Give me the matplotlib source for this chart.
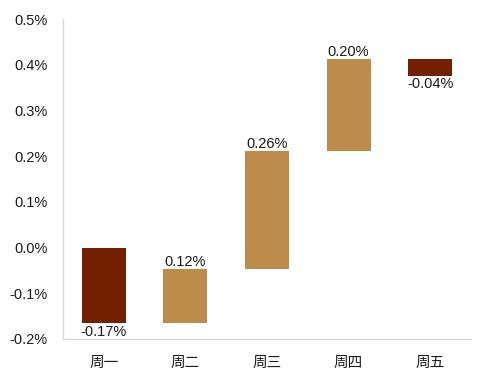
import matplotlib
matplotlib.use("Agg")
import matplotlib.pyplot as plt
from matplotlib.ticker import FuncFormatter

plt.rcParams['font.family'] = ['Liberation Sans', 'Noto Sans CJK SC', 'DejaVu Sans']

categories = ['周一', '周二', '周三', '周四', '周五']
changes = [-0.166, 0.119, 0.259, 0.200, -0.036]
y_ticks = [-0.2, -0.1, 0.0, 0.1, 0.2, 0.3, 0.4, 0.5]

pos_color = '#BE8C4A'
neg_color = '#722000'

fig = plt.figure(figsize=(4.86, 3.84), dpi=100)
ax = fig.add_axes([0.1296, 0.1172, 0.8394, 0.8333])

bottoms = []
heights = []
cum = 0.0
for c in changes:
    bottoms.append(cum)
    heights.append(c)
    cum += c

x = list(range(len(categories)))
colors = [pos_color if c > 0 else neg_color for c in changes]
ax.bar(x, heights, bottom=bottoms, width=0.54, color=colors)

for xi, b, h in zip(x, bottoms, heights):
    label = f"{h:.2f}%"
    if h > 0:
        ax.annotate(label, (xi, b + h), xytext=(0, 0), textcoords='offset points',
                    ha='center', va='bottom', fontsize=10.5, color='#1a1a1a')
    else:
        ax.annotate(label, (xi, b + h), xytext=(0, -1), textcoords='offset points',
                    ha='center', va='top', fontsize=10.5, color='#1a1a1a')

ax.set_xlim(-0.5, 4.5)
ax.set_ylim(-0.2, 0.5)
ax.set_yticks(y_ticks)
ax.yaxis.set_major_formatter(FuncFormatter(lambda v, p: f"{v:.1f}%"))
ax.set_xticks(x)
ax.set_xticklabels(categories)
ax.tick_params(axis='both', length=0, labelsize=10.5, colors='#1a1a1a')
ax.tick_params(axis='y', pad=11)
ax.tick_params(axis='x', pad=12)
for t in ax.get_xticklabels():
    t.set_family(['Noto Sans CJK SC', 'DejaVu Sans'])

for s in ['top', 'right']:
    ax.spines[s].set_visible(False)
for s in ['left', 'bottom']:
    ax.spines[s].set_color('#d9d9d9')
    ax.spines[s].set_linewidth(1.0)

fig.savefig('out.png', dpi=100)
